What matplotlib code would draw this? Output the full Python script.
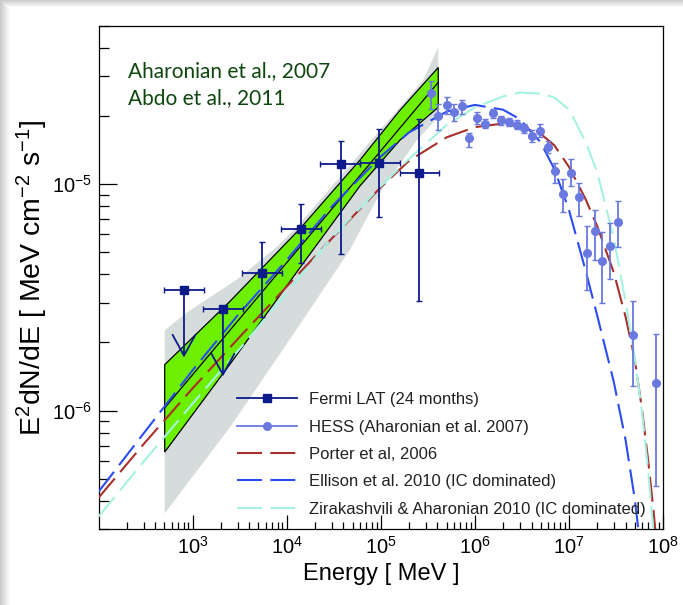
import numpy as np
import matplotlib
matplotlib.use("Agg")
import matplotlib.pyplot as plt
from matplotlib.lines import Line2D
from matplotlib.patches import Rectangle
from matplotlib.ticker import NullFormatter, LogLocator, FixedLocator, FixedFormatter

plt.rcParams['font.family'] = ['Liberation Sans', 'DejaVu Sans']
plt.rcParams['mathtext.default'] = 'regular'

# ---------------- data ----------------
# Fermi LAT (24 months)
fermi_E = [807, 2094, 5408, 14060, 37400, 96200, 254000]
fermi_E_min = [498, 1300, 3360, 8700, 22600, 60000, 160000]
fermi_E_max = [1320, 3400, 8800, 22900, 60000, 160000, 412000]
fermi_F = [3.40e-6, 2.80e-6, 4.07e-6, 6.36e-6, 1.228e-5, 1.245e-5, 1.118e-5]
fermi_F_hi = [np.nan, np.nan, 5.54e-6, 8.19e-6, 1.556e-5, 1.762e-5, 1.932e-5]
fermi_F_lo = [np.nan, np.nan, 2.60e-6, 4.50e-6, 4.94e-6, 7.16e-6, 3.05e-6]
fermi_ul_end = [1.717e-6, 1.416e-6, np.nan, np.nan, np.nan, np.nan, np.nan]

# HESS (Aharonian et al. 2007)
hess_E = [3.386e5, 4.079e5, 5.01e5, 5.988e5, 7.231e5, 8.71e5, 1.0595e6, 1.289e6,
          1.568e6, 1.893e6, 2.286e6, 2.78e6, 3.348e6, 4.044e6, 4.918e6, 5.937e6,
          7.152e6, 8.636e6, 1.05e7, 1.277e7, 1.554e7, 1.876e7, 2.26e7, 2.749e7,
          3.319e7, 4.828e7, 8.353e7]
hess_F = [2.527e-5, 1.997e-5, 2.232e-5, 2.086e-5, 2.209e-5, 1.593e-5, 1.971e-5,
          1.854e-5, 2.065e-5, 1.918e-5, 1.884e-5, 1.836e-5, 1.763e-5, 1.631e-5,
          1.721e-5, 1.463e-5, 1.148e-5, 9.06e-6, 1.125e-5, 8.77e-6, 4.97e-6,
          6.19e-6, 4.57e-6, 5.32e-6, 6.81e-6, 2.152e-6, 1.320e-6]
hess_F_hi = [2.854e-5, 2.271e-5, 2.428e-5, 2.254e-5, 2.365e-5, 1.686e-5, 2.086e-5,
             1.951e-5, 2.159e-5, 1.997e-5, 1.963e-5, 1.918e-5, 1.854e-5, 1.733e-5,
             1.841e-5, 1.555e-5, 1.237e-5, 1.052e-5, 1.288e-5, 1.016e-5, 6.51e-6,
             7.71e-6, 6.13e-6, 6.74e-6, 8.39e-6, 3.047e-6, 2.174e-6]
hess_F_lo = [2.159e-5, 1.733e-5, 2.052e-5, 1.898e-5, 2.037e-5, 1.463e-5, 1.854e-5,
             1.763e-5, 1.971e-5, 1.835e-5, 1.810e-5, 1.750e-5, 1.676e-5, 1.539e-5,
             1.609e-5, 1.369e-5, 1.010e-5, 7.57e-6, 9.83e-6, 7.25e-6, 3.40e-6,
             4.61e-6, 3.00e-6, 3.82e-6, 5.28e-6, 1.288e-6, 4.65e-7]

# Models
porter_E = [1e2, 3e2, 1e3, 3e3, 1e4, 3e4, 1e5, 2e5, 5e5, 1e6, 2e6, 3e6, 5e6, 7e6,
            1e7, 1.5e7, 2e7, 3e7, 4e7, 5e7, 6e7, 7e7, 8e7, 9e7]
porter_F = [4.13e-7, 7.11e-7, 1.257e-6, 2.068e-6, 3.535e-6, 5.75e-6, 9.71e-6,
            1.271e-5, 1.611e-5, 1.788e-5, 1.854e-5, 1.792e-5, 1.671e-5, 1.485e-5,
            1.194e-5, 8.61e-6, 6.52e-6, 4.07e-6, 2.595e-6, 1.693e-6, 1.002e-6,
            5.88e-7, 3.48e-7, 2.01e-7]
ellison_E = [1e2, 3e2, 1e3, 3e3, 1e4, 3e4, 1e5, 2e5, 5e5, 1e6, 2e6, 3e6, 5e6, 7e6,
             1e7, 1.5e7, 2e7, 3e7, 4e7, 5e7, 6e7]
ellison_F = [4.39e-7, 7.93e-7, 1.510e-6, 2.633e-6, 4.63e-6, 7.96e-6, 1.327e-5,
             1.695e-5, 2.092e-5, 2.241e-5, 2.133e-5, 1.939e-5, 1.531e-5, 1.166e-5,
             7.70e-6, 4.17e-6, 2.625e-6, 1.337e-6, 7.42e-7, 4.09e-7, 2.18e-7]
zira_E = [1e2, 3e2, 1e3, 3e3, 1e4, 3e4, 1e5, 2e5, 5e5, 1e6, 2e6, 3e6, 5e6, 7e6,
          1e7, 1.5e7, 2e7, 3e7, 4e7, 5e7, 6e7, 7e7, 8e7]
zira_F = [3.41e-7, 5.95e-7, 1.076e-6, 1.829e-6, 3.313e-6, 5.79e-6, 9.82e-6,
          1.296e-5, 1.827e-5, 2.185e-5, 2.445e-5, 2.541e-5, 2.513e-5, 2.415e-5,
          2.140e-5, 1.547e-5, 1.124e-5, 5.78e-6, 3.03e-6, 1.726e-6, 9.77e-7,
          5.27e-7, 2.76e-7]

# Fermi fit bow-tie (green) and systematic band (grey)
green_E = [503, 2489, 13800, 59950, 159600, 407900]
green_hi = [1.596e-6, 3.04e-6, 6.36e-6, 1.279e-5, 2.122e-5, 3.28e-5]
green_lo = [6.56e-7, 1.604e-6, 4.28e-6, 9.83e-6, 1.566e-5, 2.187e-5]
green_mid_E = [503, 407900]
green_mid = [1.028e-6, 2.818e-5]
grey_hi_E = [503, 868.6, 2954, 7864, 12830, 36770, 97860, 280400, 407900]
grey_hi = [2.264e-6, 2.716e-6, 3.795e-6, 5.30e-6, 6.49e-6, 1.077e-5, 1.733e-5,
           2.875e-5, 4.03e-5]
grey_lo_E = [503, 2551, 13150, 46960, 105300, 242200, 407900]
grey_lo = [3.513e-7, 8.56e-7, 2.334e-6, 5.14e-6, 9.63e-6, 1.566e-5, 1.977e-5]

xtick_vals = [1e3, 1e4, 1e5, 1e6, 1e7, 1e8]
xtick_labels = [r'$10^3$', r'$10^4$', r'$10^5$', r'$10^6$', r'$10^7$', r'$10^8$']
ytick_vals = [1e-6, 1e-5]
ytick_labels = [r'$10^{-6}$', r'$10^{-5}$']

legend_labels = ['Fermi LAT (24 months)', 'HESS (Aharonian et al. 2007)',
                 'Porter et al, 2006', 'Ellison et al. 2010 (IC dominated)',
                 'Zirakashvili & Aharonian 2010 (IC dominated)']

# ---------------- colours ----------------
c_fermi = '#0c1a8a'
c_hess = '#6a79e0'
c_porter = '#a8302a'
c_ellison = '#2a4cf0'
c_zira = '#a6f2e2'
c_green = '#6cf000'
c_grey = '#d6dcdc'

# ---------------- figure ----------------
fig = plt.figure(figsize=(6.83, 6.05), dpi=100)
fig.patch.set_facecolor('white')
W, H = 683.0, 605.0
# slide shadow along left and top edges
for i in range(10):
    g = 0.80 + 0.02 * i
    fig.add_artist(Rectangle((i / W, 0), 1.0 / W, 1 - i / H, transform=fig.transFigure,
                             facecolor=(g, g, g), edgecolor='none', zorder=-10))
    fig.add_artist(Rectangle((i / W, 1 - (i + 1) * 0.7 / H), 1, 0.7 / H,
                             transform=fig.transFigure,
                             facecolor=(g, g, g), edgecolor='none', zorder=-10))

ax = fig.add_axes([98.7 / W, 1 - 529 / H, (663 - 98.7) / W, (529 - 26) / H])
ax.set_xscale('log')
ax.set_yscale('log')
ax.set_xlim(1e2, 1e8)
ax.set_ylim(3e-7, 5e-5)

# grey band
poly_E = list(grey_hi_E) + list(grey_lo_E[::-1])
poly_F = list(grey_hi) + list(grey_lo[::-1])
ax.fill(poly_E, poly_F, facecolor=c_grey, edgecolor='none', zorder=1)
# green bow-tie
gE = list(green_E) + list(green_E[::-1])
gF = list(green_hi) + list(green_lo[::-1])
ax.fill(gE, gF, facecolor=c_green, edgecolor='black', linewidth=0.9, zorder=2)
ax.plot(green_mid_E, green_mid, color='black', lw=0.9, zorder=2.1)

dash = (12, 4)
ax.plot(porter_E, porter_F, color=c_porter, lw=1.5, dashes=dash, zorder=3)
ax.plot(ellison_E, ellison_F, color=c_ellison, lw=1.5, dashes=dash, zorder=3)
ax.plot(zira_E, zira_F, color=c_zira, lw=1.5, dashes=dash, zorder=3)

# HESS
hE = np.array(hess_E); hF = np.array(hess_F)
ax.errorbar(hE, hF, yerr=[hF - np.array(hess_F_lo), np.array(hess_F_hi) - hF],
            fmt='o', color=c_hess, ms=5.5, elinewidth=1.3, capsize=2.5, capthick=1.0,
            zorder=5)

# Fermi
fE = np.array(fermi_E, float); fF = np.array(fermi_F)
xerr = [fE - np.array(fermi_E_min), np.array(fermi_E_max) - fE]
flo = np.array(fermi_F_lo); fhi = np.array(fermi_F_hi)
yerr = [np.where(np.isnan(flo), 0, fF - flo), np.where(np.isnan(fhi), 0, fhi - fF)]
ax.errorbar(fE, fF, xerr=xerr, yerr=yerr, fmt='s', color=c_fermi, ms=6,
            elinewidth=1.3, capsize=2.5, capthick=1.0, zorder=6)
for e, f, u in zip(fermi_E, fermi_F, fermi_ul_end):
    if not np.isnan(u):
        ax.annotate('', xy=(e, u), xytext=(e, f),
                    arrowprops=dict(arrowstyle='->,head_length=1.0,head_width=0.55',
                                    color=c_fermi, lw=1.3, shrinkA=0, shrinkB=0,
                                    mutation_scale=15), zorder=6)

# ticks
ax.xaxis.set_major_locator(FixedLocator(xtick_vals))
ax.xaxis.set_major_formatter(FixedFormatter(xtick_labels))
ax.xaxis.set_minor_locator(LogLocator(base=10, subs=np.arange(2, 10), numticks=20))
ax.xaxis.set_minor_formatter(NullFormatter())
ax.yaxis.set_major_locator(FixedLocator(ytick_vals))
ax.yaxis.set_major_formatter(FixedFormatter(ytick_labels))
ax.yaxis.set_minor_locator(LogLocator(base=10, subs=np.arange(2, 10), numticks=20))
ax.yaxis.set_minor_formatter(NullFormatter())
ax.tick_params(axis='both', which='both', direction='in', top=False, right=False,
               width=0.9, labelsize=14.5)
ax.tick_params(axis='y', which='major', length=13, pad=5)
ax.tick_params(axis='y', which='minor', length=7)
ax.tick_params(axis='x', which='major', length=10, pad=5)
ax.tick_params(axis='x', which='minor', length=5)
for s in ax.spines.values():
    s.set_linewidth(0.9)

ax.set_xlabel('Energy [ MeV ]', fontsize=17, labelpad=4)
ax.set_ylabel(r'E$^2$dN/dE [ MeV cm$^{-2}$ s$^{-1}$]', fontsize=20.5, labelpad=1)

# annotation text
ax.text(0.052, 0.8986, 'Aharonian et al., 2007', transform=ax.transAxes,
        fontsize=15, color='#0f470f', family=['Lato', 'DejaVu Sans'], va='baseline')
ax.text(0.052, 0.845, 'Abdo et al., 2011', transform=ax.transAxes,
        fontsize=15, color='#0f470f', family=['Lato', 'DejaVu Sans'], va='baseline')

# legend
handles = [
    Line2D([], [], color=c_fermi, lw=1.3, marker='s', ms=6),
    Line2D([], [], color=c_hess, lw=1.3, marker='o', ms=5.5),
    Line2D([], [], color=c_porter, lw=1.5, dashes=dash),
    Line2D([], [], color=c_ellison, lw=1.5, dashes=dash),
    Line2D([], [], color=c_zira, lw=1.5, dashes=dash),
]
leg = ax.legend(handles, legend_labels, loc='upper left', bbox_to_anchor=(0.2446, 0.272),
                frameon=False, fontsize=12, handlelength=3.6, handletextpad=0.72,
                labelspacing=0.74, borderpad=0, borderaxespad=0, markerscale=1.0)
for t in leg.get_texts():
    t.set_color('#222222')

fig.savefig('out.png', dpi=100, facecolor=fig.get_facecolor())
